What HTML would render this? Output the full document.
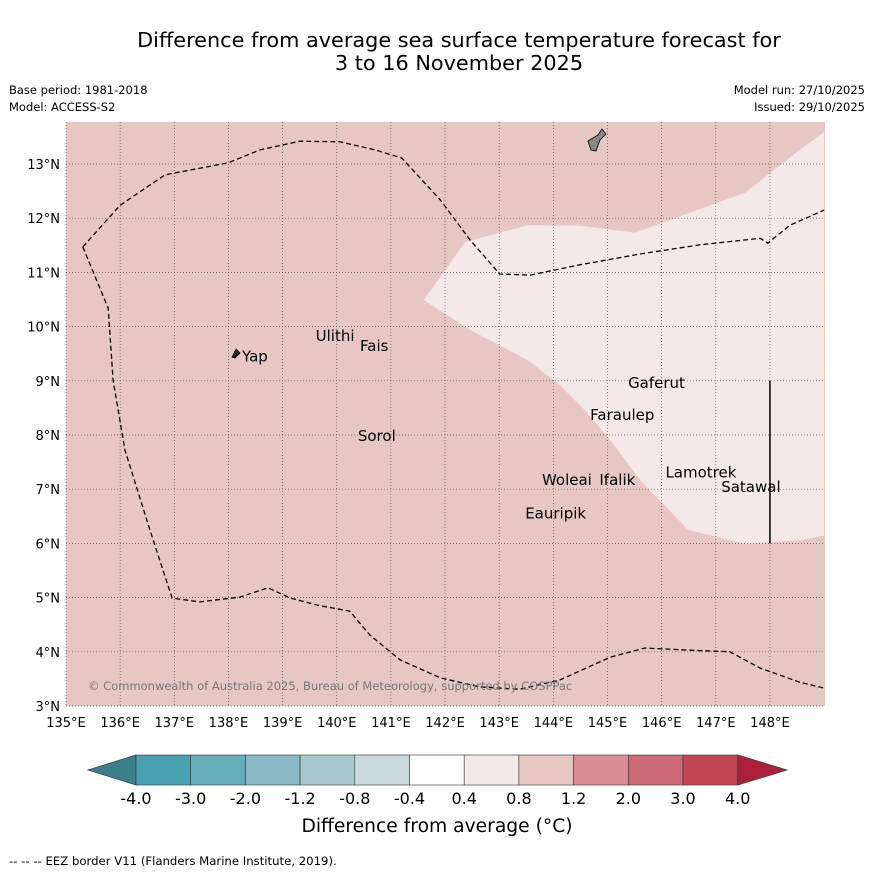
<!DOCTYPE html>
<html><head><meta charset="utf-8"><style>
body{margin:0;background:#fff;}
svg text{font-family:"DejaVu Sans","Liberation Sans",sans-serif;}
</style></head><body>
<svg id="c" width="873" height="873" xmlns="http://www.w3.org/2000/svg">
<text x="459" y="47" font-size="20.8" text-anchor="middle">Difference from average sea surface temperature forecast for</text>
<text x="459" y="70" font-size="20.8" text-anchor="middle">3 to 16 November 2025</text>
<text x="9" y="94" font-size="11.5">Base period: 1981-2018</text>
<text x="9" y="111" font-size="11.5">Model: ACCESS-S2</text>
<text x="865" y="94" font-size="11.5" text-anchor="end">Model run: 27/10/2025</text>
<text x="865" y="111" font-size="11.5" text-anchor="end">Issued: 29/10/2025</text>
<g id="map"></g>
<g id="cbar"></g>
<text x="437" y="832" font-size="18.7" text-anchor="middle">Difference from average (°C)</text>
<text x="9" y="865" font-size="11.7">-- -- -- EEZ border V11 (Flanders Marine Institute, 2019).</text>
</svg>
<script>
const lonTicks=[135,136,137,138,139,140,141,142,143,144,145,146,147,148];
const latTicks=[3,4,5,6,7,8,9,10,11,12,13];
const eezLower=[[135.31,11.47],[135.78,10.34],[135.87,9.01],[136.09,7.72],[136.55,6.25],[136.96,4.99],[137.47,4.92],[138.21,5.01],[138.73,5.18],[139.14,4.99],[139.69,4.85],[140.24,4.75],[140.61,4.31],[141.17,3.85],[141.91,3.52],[142.65,3.35],[143.38,3.31],[144.12,3.48],[145.05,3.9],[145.69,4.07],[146.52,4.03],[147.26,4.0],[147.82,3.70],[148.55,3.44],[149,3.33]];
const eezUpper=[[135.31,11.47],[136.0,12.24],[136.83,12.8],[137.99,13.02],[138.58,13.26],[139.32,13.42],[140.06,13.41],[140.71,13.26],[141.2,13.11],[141.91,12.34],[142.46,11.6],[143.01,10.97],[143.57,10.95],[144.49,11.14],[145.6,11.34],[146.71,11.51],[147.82,11.63],[147.96,11.54],[148.37,11.87],[149,12.15]];
const lightRegion=[[141.61,10.49],[142.37,11.56],[143.53,11.87],[144.49,11.86],[145.51,11.73],[146.52,12.1],[147.54,12.47],[148.55,13.26],[149,13.59],[149,6.14],[148.55,6.06],[147.54,5.99],[146.49,6.25],[145.6,7.17],[145.05,7.91],[144.58,8.46],[144.12,8.92],[143.53,9.38],[142.46,9.94]];
const places=["Yap","Ulithi","Fais","Gaferut","Faraulep","Sorol","Lamotrek","Woleai","Ifalik","Satawal","Eauripik"];
const placeLon=[138.25,139.61,140.43,145.38,144.68,140.39,146.07,143.79,144.85,147.1,143.48];
const placeLat=[9.45,9.83,9.64,8.96,8.37,7.98,7.31,7.17,7.17,7.04,6.55];
const cbLabels=["-4.0","-3.0","-2.0","-1.2","-0.8","-0.4","0.4","0.8","1.2","2.0","3.0","4.0"];
const cbColors=["#48a1b1","#68adbb","#8ab8c4","#a9c8ce","#cad9dd","#ffffff","#f5e9e8","#e7c7c3","#d98e95","#cc6b76","#c04654"];
const X=lon=>66+(lon-135)*54.15, Y=lat=>706-(lat-3)*54.2;
const NS="http://www.w3.org/2000/svg";
function mk(p,t,a){const e=document.createElementNS(NS,t);for(const k in a)e.setAttribute(k,a[k]);p.appendChild(e);return e;}
const m=document.getElementById('map');
const bg=mk(m,'rect',{x:66,y:122,width:759,height:584,fill:'#e7c7c3'});


const pts=a=>a.map(p=>X(p[0]).toFixed(1)+','+Y(p[1]).toFixed(1)).join(' ');
const lr=mk(m,'polygon',{points:pts(lightRegion),fill:'#f5e9e8'});


lonTicks.forEach(l=>{const g=mk(m,'line',{x1:X(l),x2:X(l),y1:122,y2:706,stroke:'#555','stroke-width':0.7,'stroke-dasharray':'1,2'});


const t=mk(m,'text',{x:X(l),y:727,'font-size':13,'text-anchor':'middle'});t.textContent=l+'°E';

});
latTicks.forEach(l=>{const g=mk(m,'line',{x1:66,x2:825,y1:Y(l),y2:Y(l),stroke:'#555','stroke-width':0.7,'stroke-dasharray':'1,2'});


const t=mk(m,'text',{x:60,y:Y(l)+5,'font-size':13,'text-anchor':'end'});t.textContent=l+'°N';

});
[eezLower,eezUpper].forEach(a=>{const p=mk(m,'polyline',{points:pts(a),fill:'none',stroke:'#000','stroke-width':1.3,'stroke-dasharray':'5,3'});

});
const vl=mk(m,'line',{x1:X(148),x2:X(148),y1:Y(9),y2:Y(6),stroke:'#000','stroke-width':1.5});


const guam=mk(m,'polygon',{points:'588,141 598,135 602,129 606,134 600,140 596,151 591,150',fill:'#888',stroke:'#000','stroke-width':0.8});


const yap=mk(m,'polygon',{points:'232,357 236,349 240,353 235,358',fill:'#222',stroke:'#000','stroke-width':0.8});


places.forEach((n,i)=>{const t=mk(m,'text',{x:X(placeLon[i]),y:Y(placeLat[i])+5,'font-size':15});t.textContent=n;

});
const cp=mk(m,'text',{x:88,y:690,'font-size':11.5,fill:'#777'});cp.textContent='© Commonwealth of Australia 2025, Bureau of Meteorology, supported by COSPPac';


const cb=document.getElementById('cbar');
const w=54.7,x0=136;
const tl=mk(cb,'polygon',{points:'136,755 88,770 136,785',fill:'#3b7f8a',stroke:'#444','stroke-width':0.8});


const tr=mk(cb,'polygon',{points:'738,755 787,770 738,785',fill:'#ad1f3a',stroke:'#444','stroke-width':0.8});


cbColors.forEach((c,i)=>{const r=mk(cb,'rect',{x:x0+i*w,y:755,width:w,height:30,fill:c,stroke:'#333','stroke-width':0.6});

});
cbLabels.forEach((l,i)=>{const t=mk(cb,'text',{x:x0+i*w,y:804,'font-size':16,'text-anchor':'middle'});t.textContent=l;

});
</script>
</body></html>
